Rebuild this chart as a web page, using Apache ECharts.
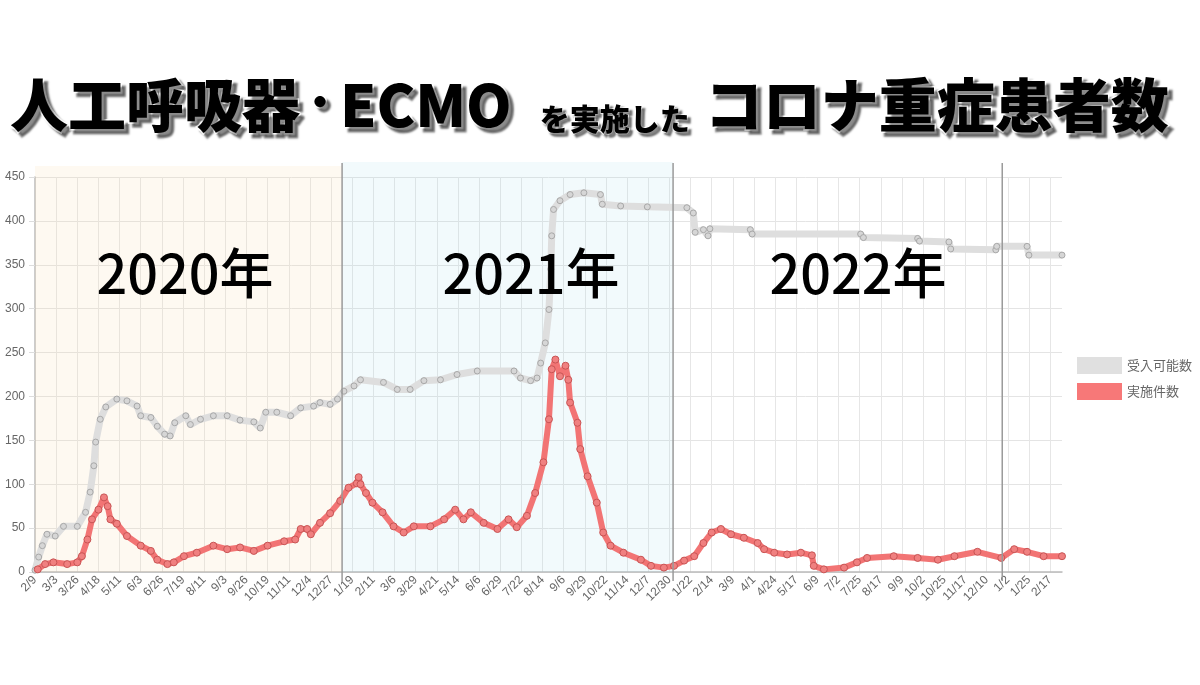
<!DOCTYPE html>
<html>
<head>
<meta charset="utf-8">
<title>人工呼吸器・ECMOを実施したコロナ重症患者数</title>
<script src="https://cdn.jsdelivr.net/npm/echarts@6/dist/echarts.min.js"></script>
<style>
html, body { margin: 0; padding: 0; background: #fff; }
#chart { width: 1200px; height: 685px; }
</style>
</head>
<body>
<div id="chart"></div>
<script>
var seriesNames = ['受入可能数', '実施件数'];

// [date, value]
var capacityData = [
	['2020-02-09', 2], ['2020-02-13', 17], ['2020-02-17', 30], ['2020-02-22', 43], ['2020-03-02', 41],
	['2020-03-11', 52], ['2020-03-26', 52], ['2020-04-04', 68], ['2020-04-09', 91], ['2020-04-13', 121],
	['2020-04-15', 148], ['2020-04-20', 174], ['2020-04-26', 188], ['2020-05-08', 197], ['2020-05-19', 195],
	['2020-05-30', 189], ['2020-06-03', 178], ['2020-06-14', 176], ['2020-06-21', 166], ['2020-06-29', 157],
	['2020-07-05', 155], ['2020-07-10', 170], ['2020-07-22', 178], ['2020-07-27', 168], ['2020-08-07', 174],
	['2020-08-21', 178], ['2020-09-05', 178], ['2020-09-19', 173], ['2020-10-04', 171], ['2020-10-11', 164],
	['2020-10-17', 182], ['2020-10-29', 182], ['2020-11-13', 178], ['2020-11-24', 187], ['2020-12-08', 189],
	['2020-12-15', 193], ['2020-12-26', 191], ['2021-01-03', 197], ['2021-01-10', 206], ['2021-01-21', 212],
	['2021-01-28', 219], ['2021-02-22', 216], ['2021-03-09', 208], ['2021-03-23', 208], ['2021-04-07', 218],
	['2021-04-25', 219], ['2021-05-13', 225], ['2021-06-04', 229], ['2021-07-14', 229], ['2021-07-21', 221],
	['2021-08-01', 218], ['2021-08-08', 221], ['2021-08-12', 238], ['2021-08-17', 261], ['2021-08-21', 299],
	['2021-08-23', 345], ['2021-08-24', 383], ['2021-08-26', 413], ['2021-09-02', 423], ['2021-09-13', 430],
	['2021-09-28', 432], ['2021-10-16', 430], ['2021-10-18', 419], ['2021-11-07', 417], ['2021-12-06', 416],
	['2022-01-18', 415], ['2022-01-25', 409], ['2022-01-27', 387], ['2022-02-05', 390], ['2022-02-10', 383],
	['2022-02-12', 391], ['2022-03-28', 390], ['2022-03-30', 385], ['2022-07-26', 385], ['2022-07-29', 381],
	['2022-09-26', 380], ['2022-09-28', 377], ['2022-10-30', 376], ['2022-11-01', 368], ['2022-12-20', 367],
	['2022-12-21', 371], ['2023-01-23', 371], ['2023-01-25', 361], ['2023-03-02', 361]
];

var ventData = [
	['2020-02-12', 3], ['2020-02-20', 9], ['2020-02-29', 11], ['2020-03-15', 9], ['2020-03-26', 11],
	['2020-03-31', 18], ['2020-04-06', 37], ['2020-04-11', 60], ['2020-04-18', 71], ['2020-04-24', 85],
	['2020-04-28', 75], ['2020-05-01', 60], ['2020-05-08', 55], ['2020-05-19', 41], ['2020-06-03', 30],
	['2020-06-14', 24], ['2020-06-21', 14], ['2020-07-02', 9], ['2020-07-09', 11], ['2020-07-20', 18],
	['2020-08-03', 22], ['2020-08-21', 30], ['2020-09-05', 26], ['2020-09-19', 28], ['2020-10-04', 24],
	['2020-10-19', 30], ['2020-11-06', 35], ['2020-11-18', 37], ['2020-11-24', 49], ['2020-12-01', 49],
	['2020-12-05', 43], ['2020-12-15', 56], ['2020-12-26', 67], ['2021-01-06', 81], ['2021-01-15', 96],
	['2021-01-24', 101], ['2021-01-26', 108], ['2021-01-28', 100], ['2021-02-03', 90], ['2021-02-10', 79],
	['2021-02-21', 68], ['2021-03-05', 52], ['2021-03-16', 45], ['2021-03-27', 52], ['2021-04-14', 52],
	['2021-04-29', 60], ['2021-05-11', 71], ['2021-05-20', 60], ['2021-05-28', 68], ['2021-06-11', 56],
	['2021-06-26', 49], ['2021-07-08', 60], ['2021-07-17', 51], ['2021-07-28', 64], ['2021-08-06', 90],
	['2021-08-15', 125], ['2021-08-21', 174], ['2021-08-24', 231], ['2021-08-28', 242], ['2021-09-02', 223],
	['2021-09-08', 235], ['2021-09-11', 219], ['2021-09-13', 193], ['2021-09-21', 170], ['2021-09-24', 140],
	['2021-10-02', 109], ['2021-10-12', 79], ['2021-10-19', 45], ['2021-10-27', 30], ['2021-11-10', 22],
	['2021-11-29', 14], ['2021-12-10', 7], ['2021-12-24', 5], ['2022-01-04', 7], ['2022-01-15', 13],
	['2022-01-26', 18], ['2022-02-05', 33], ['2022-02-14', 45], ['2022-02-24', 49], ['2022-03-07', 43],
	['2022-03-21', 39], ['2022-04-05', 33], ['2022-04-12', 26], ['2022-04-23', 22], ['2022-05-07', 20],
	['2022-05-22', 22], ['2022-06-03', 19], ['2022-06-05', 7], ['2022-06-16', 3], ['2022-07-08', 5],
	['2022-07-22', 11], ['2022-08-02', 16], ['2022-08-31', 18], ['2022-09-26', 16], ['2022-10-18', 14],
	['2022-11-05', 18], ['2022-11-30', 23], ['2022-12-26', 16], ['2023-01-09', 26], ['2023-01-23', 23],
	['2023-02-10', 18], ['2023-03-02', 18]
];

var axisStart = '2020-02-09';
var axisEnd = '2023-03-02';
var tickDays = 23;

var yearLabels = ['2020年', '2021年', '2022年'];
var yearBoundaries = ['2021-01-08', '2022-01-03', '2022-12-27'];

var DAY = 86400000;
var base = Date.parse(axisStart);

function toDay(s) {
	return Math.round((Date.parse(s) - base) / DAY);
}
function toPoints(list) {
	return list.map(function (p) { return [toDay(p[0]), p[1]]; });
}
function dayLabel(v) {
	if (v % tickDays !== 0) return '';
	var d = new Date(base + v * DAY);
	return (d.getUTCMonth() + 1) + '/' + d.getUTCDate();
}

var chart = echarts.init(document.getElementById('chart'));

var titleBig = {
	fontSize: 58,
	fontWeight: 900,
	fontFamily: 'Noto Sans CJK JP',
	color: '#000',
	textBorderColor: '#fff',
	textBorderWidth: 3,
	textShadowColor: 'rgba(0,0,0,0.45)',
	textShadowOffsetX: 4,
	textShadowOffsetY: 4,
	textShadowBlur: 2,
	lineHeight: 64,
	verticalAlign: 'bottom'
};
var titleDot = echarts.util.extend({}, titleBig);
titleDot.fontSize = 40;
titleDot.verticalAlign = 'middle';
var titleSmall = echarts.util.extend({}, titleBig);
titleSmall.fontSize = 30;
titleSmall.textBorderWidth = 2;
titleSmall.textShadowOffsetX = 3;
titleSmall.textShadowOffsetY = 3;
titleSmall.padding = [0, 15, 0, 28];

var axisFont = 'Liberation Sans';

chart.setOption({
	animation: false,
	backgroundColor: '#fff',
	title: {
		left: 10,
		top: 70,
		padding: 0,
		text: '{a|人工呼吸器}{d|・}{a|ECMO}{b|を実施した}{a|コロナ重症患者数}',
		textStyle: { rich: { a: titleBig, d: titleDot, b: titleSmall } }
	},
	legend: {
		orient: 'vertical',
		left: 1072,
		top: 352,
		icon: 'rect',
		itemWidth: 45,
		itemHeight: 17,
		itemGap: 9,
		itemStyle: { borderWidth: 0 },
		textStyle: { color: '#666', fontSize: 13, fontFamily: 'Noto Sans CJK JP' },
		data: [
			{ name: seriesNames[0], itemStyle: { color: '#e0e0e0' } },
			{ name: seriesNames[1], itemStyle: { color: '#f77878' } }
		]
	},
	grid: { left: 35, right: 138, top: 177, bottom: 113 },
	xAxis: {
		type: 'value',
		min: 0,
		max: toDay(axisEnd),
		interval: tickDays,
		axisLine: { show: true, lineStyle: { color: '#bbb', width: 1.5 } },
		axisTick: { show: false },
		axisLabel: {
			rotate: 45,
			color: '#666',
			fontSize: 12,
			fontFamily: axisFont,
			margin: 6,
			showMaxLabel: false,
			formatter: dayLabel
		},
		splitLine: { show: true, showMinLine: false, showMaxLine: false, lineStyle: { color: '#e6e6e6' } }
	},
	yAxis: {
		type: 'value',
		min: 0,
		max: 450,
		interval: 50,
		axisLine: { show: true, lineStyle: { color: '#bbb', width: 1.5 } },
		axisTick: { show: true, length: 6, lineStyle: { color: '#ddd' } },
		axisLabel: { color: '#666', fontSize: 12, fontFamily: axisFont, margin: 10 },
		splitLine: { show: true, lineStyle: { color: '#e4e4e4' } }
	},
	series: [
		{
			name: seriesNames[0],
			type: 'line',
			data: toPoints(capacityData),
			z: 3,
			symbol: 'circle',
			symbolSize: 6,
			itemStyle: { color: '#d6d6d6', borderColor: '#a8a8a8', borderWidth: 1 },
			lineStyle: { color: '#dedede', width: 7 }
		},
		{
			name: seriesNames[1],
			type: 'line',
			data: toPoints(ventData),
			z: 4,
			symbol: 'circle',
			symbolSize: 7,
			itemStyle: { color: '#f08080', borderColor: '#c85454', borderWidth: 1 },
			lineStyle: { color: '#f27474', width: 6 }
		}
	]
});

// year bands, boundary lines and year captions
function px(day, value) {
	return chart.convertToPixel({ xAxisIndex: 0, yAxisIndex: 0 }, [day, value]);
}
var topY = px(0, 450)[1];
var bottomY = px(0, 0)[1];
var b0 = px(0, 0)[0];
var b1 = px(toDay(yearBoundaries[0]), 0)[0];
var b2 = px(toDay(yearBoundaries[1]), 0)[0];
var b3 = px(toDay(yearBoundaries[2]), 0)[0];

var graphics = [
	{ type: 'rect', z: 1, silent: true, shape: { x: b0, y: topY - 11, width: b1 - b0, height: bottomY - topY + 11 },
		style: { fill: 'rgba(250,220,170,0.16)' } },
	{ type: 'rect', z: 1, silent: true, shape: { x: b1, y: topY - 15, width: b2 - b1, height: bottomY - topY + 15 },
		style: { fill: 'rgba(150,210,230,0.12)' } }
];
[b1, b2, b3].forEach(function (x) {
	graphics.push({ type: 'line', z: 5, silent: true,
		shape: { x1: x, y1: topY - 14, x2: x, y2: bottomY + 9 },
		style: { stroke: '#9a9a9a', lineWidth: 1.5 } });
});
var captionX = [185, 531, 858];
yearLabels.forEach(function (t, i) {
	graphics.push({ type: 'text', z: 6, silent: true,
		style: { text: t, x: captionX[i], y: 273, textAlign: 'center', textVerticalAlign: 'middle',
			font: '500 54px "Noto Sans CJK JP"', fill: '#000' } });
});
chart.setOption({ graphic: graphics });
</script>
</body>
</html>
